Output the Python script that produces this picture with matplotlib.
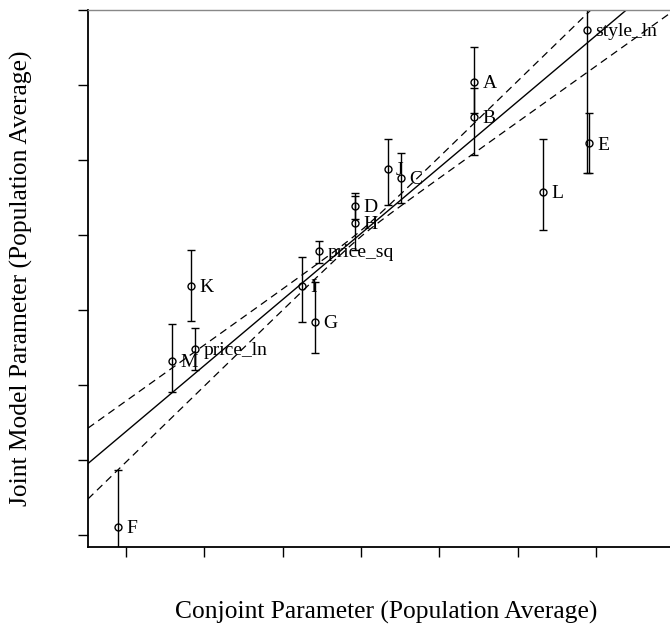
import numpy as np
import matplotlib.pyplot as plt

plt.rcParams['font.family'] = ['Liberation Serif', 'DejaVu Serif']

# parameter estimates (conjoint vs joint model) with interval bounds
names = ['A', 'B', 'C', 'D', 'E', 'F', 'G', 'H', 'I', 'J', 'K', 'L', 'M',
         'price_ln', 'price_sq', 'style_ln']
conjoint = [0.723, 0.723, 0.255, -0.038, 1.457, -1.553, -0.294, -0.038, -0.379,
            0.170, -1.087, 1.164, -1.204, -1.060, -0.268, 1.441]
joint = [1.522, 1.289, 0.882, 0.693, 1.111, -1.445, -0.082, 0.578, 0.160,
         0.938, 0.160, 0.789, -0.340, -0.262, 0.393, 1.867]
lower = [1.315, 1.033, 0.715, 0.607, 0.913, -1.820, -0.285, 0.400, -0.082,
         0.700, -0.071, 0.533, -0.547, -0.400, 0.315, 0.913]
upper = [1.751, 1.478, 1.045, 0.778, 1.315, -1.067, 0.189, 0.762, 0.355,
         1.138, 0.400, 1.138, -0.093, -0.118, 0.460, 2.820]

# fitted line and its confidence band
fit_intercept = 0.51
fit_slope = 0.88
band_center = 0.0
band_se0 = 0.02
band_se_slope = 0.135

x = np.array(conjoint)
y = np.array(joint)
yerr = [y - np.array(lower), np.array(upper) - y]

fig = plt.figure(figsize=(6.7, 6.27), dpi=100)
ax = fig.add_axes([88 / 670, 80 / 627, 582 / 670, 537 / 627])

ax.set_xlim(-1.7426, 1.972)
ax.set_ylim(-1.58, 2.0)

xs = np.linspace(-1.7426, 1.972, 200)
fit = fit_intercept + fit_slope * xs
half = np.sqrt(band_se0 ** 2 + (band_se_slope * (xs - band_center)) ** 2)
ax.plot(xs, fit, color='black', lw=1)
ax.plot(xs, fit + half, color='black', lw=0.9, ls=(0, (6, 4)))
ax.plot(xs, fit - half, color='black', lw=0.9, ls=(0, (6, 4)))

ax.errorbar(x, y, yerr=yerr, fmt='none', ecolor='black', elinewidth=1,
            capsize=3, capthick=1)
ax.plot(x, y, 'o', mfc='none', mec='black', ms=5, mew=1)

for name, xi, yi in zip(names, x, y):
    ax.annotate(name, (xi, yi), xytext=(6, -1.2), textcoords='offset points',
                va='center', ha='left', fontsize=14)

ax.set_xticks(np.arange(-1.5, 1.51, 0.5))
ax.set_yticks(np.arange(-1.5, 2.01, 0.5))
ax.set_xticklabels([])
ax.set_yticklabels([])
ax.tick_params(direction='out', length=7.2, width=1, color='black')

ax.spines['right'].set_visible(False)
ax.spines['top'].set_color('#888888')
ax.spines['top'].set_linewidth(1)
ax.spines['left'].set_linewidth(1.3)
ax.spines['bottom'].set_linewidth(1.3)

ax.set_xlabel('Conjoint Parameter (Population Average)', fontsize=18.4)
ax.set_ylabel('Joint Model Parameter (Population Average)', fontsize=18.4)
ax.xaxis.set_label_coords(0.512, -0.10)
ax.yaxis.set_label_coords(-0.0945, 0.5)

fig.savefig('out.png', dpi=100)
